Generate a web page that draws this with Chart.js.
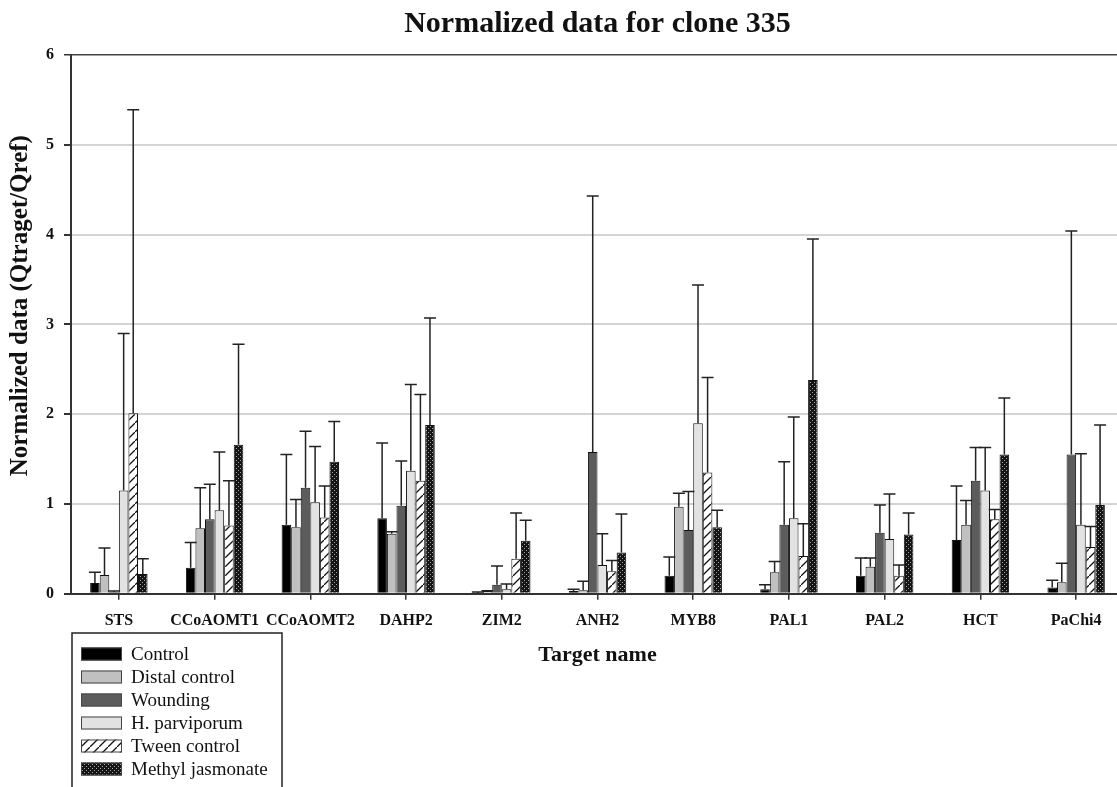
<!DOCTYPE html>
<html><head><meta charset="utf-8">
<script src="https://cdn.jsdelivr.net/npm/chart.js@4.4.1/dist/chart.umd.min.js"></script>
<style>html,body{margin:0;padding:0;background:#fff;overflow:hidden;}
#wrap{width:1125px;height:787px;}
</style></head><body><div id="wrap"><canvas id="c" width="1125" height="787"></canvas></div>
<script>
const categories = ['STS','CCoAOMT1','CCoAOMT2','DAHP2','ZIM2','ANH2','MYB8','PAL1','PAL2','HCT','PaChi4'];
const seriesNames = ['Control','Distal control','Wounding','H. parviporum','Tween control','Methyl jasmonate'];
const yTicks = [0,1,2,3,4,5,6];

const control        = [0.12,0.29,0.77,0.84,0.01,0.03,0.20,0.05,0.20,0.60,0.07];
const controlUpper   = [0.24,0.57,1.55,1.68,0.02,0.05,0.41,0.10,0.40,1.20,0.15];
const distal         = [0.21,0.73,0.74,0.67,0.03,0.04,0.97,0.24,0.30,0.77,0.13];
const distalUpper    = [0.51,1.18,1.05,0.69,0.035,0.14,1.12,0.36,0.40,1.04,0.34];
const wounding       = [0.02,0.83,1.18,0.98,0.10,1.58,0.71,0.77,0.68,1.26,1.55];
const woundingUpper  = [0.03,1.22,1.81,1.48,0.31,4.43,1.14,1.47,0.99,1.63,4.04];
const hparv          = [1.15,0.93,1.02,1.37,0.05,0.32,1.90,0.84,0.61,1.15,0.77];
const hparvUpper     = [2.90,1.58,1.64,2.33,0.11,0.67,3.44,1.97,1.11,1.63,1.56];
const tween          = [2.01,0.76,0.85,1.26,0.39,0.25,1.35,0.42,0.20,0.83,0.52];
const tweenUpper     = [5.39,1.26,1.20,2.22,0.90,0.37,2.41,0.78,0.32,0.94,0.75];
const meja           = [0.22,1.66,1.47,1.88,0.59,0.46,0.74,2.38,0.66,1.55,0.99];
const mejaUpper      = [0.39,2.78,1.92,3.07,0.82,0.89,0.93,3.95,0.90,2.18,1.88];

const SERIF = '"Liberation Serif", "Times New Roman", serif';
const canvas = document.getElementById('c');
const ctx0 = canvas.getContext('2d');

function hatchPattern(){
  const s=9, c=document.createElement('canvas'); c.width=s; c.height=s;
  const g=c.getContext('2d'); g.fillStyle='#fff'; g.fillRect(0,0,s,s);
  g.strokeStyle='#111'; g.lineWidth=1.3; g.beginPath();
  g.moveTo(-1,s+1); g.lineTo(s+1,-1);
  g.moveTo(-2,1); g.lineTo(1,-2);
  g.moveTo(s-1,s+2); g.lineTo(s+2,s-1);
  g.stroke();
  return ctx0.createPattern(c,'repeat');
}
function dotPattern(){
  const c=document.createElement('canvas'); c.width=4; c.height=4;
  const g=c.getContext('2d'); g.fillStyle='#141414'; g.fillRect(0,0,4,4);
  g.fillStyle='#a8a8a8'; g.fillRect(0,0,1,1); g.fillRect(2,2,1,1);
  return ctx0.createPattern(c,'repeat');
}
const fills = ['#000000','#c0c0c0','#5c5c5c','#e2e2e2',hatchPattern(),dotPattern()];
const values = [control,distal,wounding,hparv,tween,meja];
const uppers = [controlUpper,distalUpper,woundingUpper,hparvUpper,tweenUpper,mejaUpper];

const datasets = seriesNames.map((n,i)=>({
  label:n, data:values[i], upper:uppers[i],
  backgroundColor:fills[i], borderColor:'#111', borderWidth:1,
  categoryPercentage:0.6, barPercentage:1.0
}));

const errorBars = {
  id:'errorBars',
  afterDatasetsDraw(chart){
    const ctx=chart.ctx, ys=chart.scales.y;
    chart.data.datasets.forEach((ds,i)=>{
      const meta=chart.getDatasetMeta(i);
      meta.data.forEach((bar,j)=>{
        const up=ds.upper[j]; if(up==null) return;
        const x=bar.x, y0=ys.getPixelForValue(ds.data[j]), y1=ys.getPixelForValue(up);
        ctx.save(); ctx.strokeStyle='#222'; ctx.lineWidth=1.5;
        ctx.beginPath(); ctx.moveTo(x,y0); ctx.lineTo(x,y1);
        ctx.moveTo(x-6,y1); ctx.lineTo(x+6,y1); ctx.stroke(); ctx.restore();
      });
    });
  }
};

const boxLegend = {
  id:'boxLegend',
  afterDraw(chart){
    const ctx=chart.ctx;
    ctx.save();
    ctx.fillStyle='#fff'; ctx.fillRect(72,633,210,170);
    ctx.strokeStyle='#222'; ctx.lineWidth=1.5; ctx.strokeRect(72,633,210,170);
    const ys=[654,677,700,723,746,769];
    chart.data.datasets.forEach((ds,i)=>{
      ctx.fillStyle=ds.backgroundColor; ctx.fillRect(81,ys[i]-6.5,41,13);
      ctx.strokeStyle='#444'; ctx.lineWidth=1; ctx.strokeRect(81.5,ys[i]-6,40,12);
      ctx.fillStyle='#111'; ctx.font='19px '+SERIF; ctx.textBaseline='middle'; ctx.textAlign='left';
      ctx.fillText(ds.label,131,ys[i]+1);
    });
    ctx.restore();
  }
};

new Chart(canvas,{
  type:'bar',
  data:{labels:categories,datasets},
  plugins:[errorBars,boxLegend],
  options:{
    responsive:false, animation:false,
    layout:{padding:{left:2,right:1,top:0,bottom:118}},
    plugins:{
      legend:{display:false}, tooltip:{enabled:false},
      title:{display:true,fullSize:false,text:'Normalized data for clone 335',color:'#111',
        font:{family:SERIF,size:30,weight:'bold'},padding:{top:6,bottom:13}}
    },
    scales:{
      x:{
        grid:{display:true,drawOnChartArea:false,drawTicks:true,offset:false,tickLength:6,color:'#333',lineWidth:1.5},
        border:{display:true,color:'#333',width:2},
        ticks:{color:'#111',font:{family:SERIF,size:16,weight:'bold'},padding:11,maxRotation:0,autoSkip:false},
        title:{display:true,text:'Target name',color:'#111',font:{family:SERIF,size:22,weight:'bold'},padding:{top:1.6,bottom:0}}
      },
      y:{
        min:0,max:6,
        afterBuildTicks(axis){axis.ticks=yTicks.map(v=>({value:v}));},
        grid:{color:ctx=>ctx.tick&&ctx.tick.value===6?'#444':'#d4d4d4',lineWidth:ctx=>ctx.tick&&ctx.tick.value===6?1.5:2,tickColor:'#333',tickLength:7},
        border:{display:true,color:'#333',width:2},
        ticks:{color:'#111',font:{family:SERIF,size:16,weight:'bold'},padding:10},
        title:{display:true,text:'      Normalized data (Qtraget/Qref)',color:'#111',font:{family:SERIF,size:25,weight:'bold'},padding:{top:4,bottom:0}}
      }
    }
  }
});
</script></body></html>
